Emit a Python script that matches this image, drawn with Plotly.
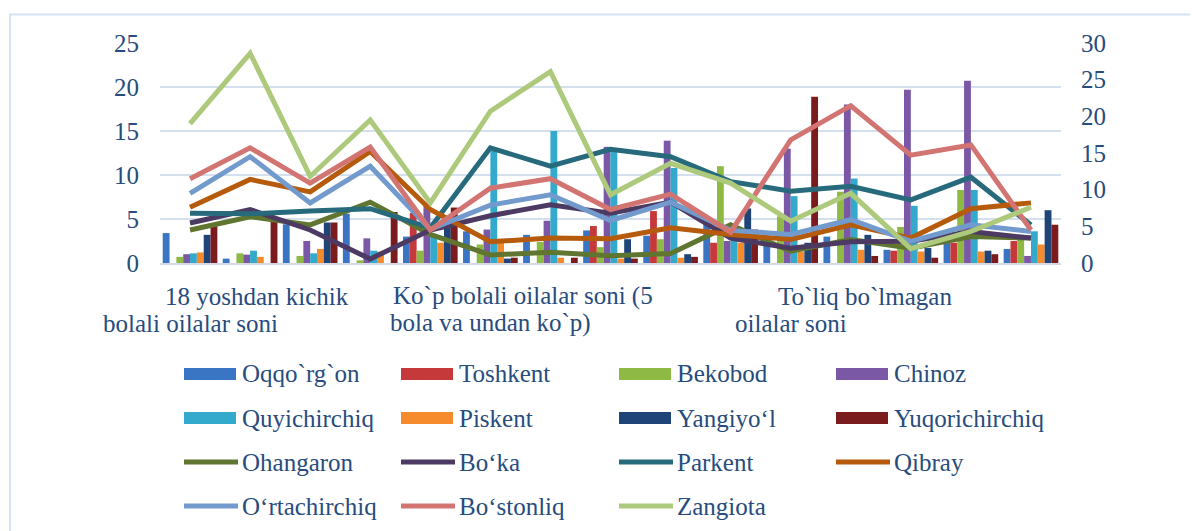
import plotly.graph_objects as go

# ---------------- data ----------------
categories = list(range(15))

bar_names = ["Oqqo`rg`on", "Toshkent", "Bekobod", "Chinoz",
             "Quyichirchiq", "Piskent", "Yangiyo‘l", "Yuqorichirchiq"]
oqqorgon = [3.4, 0.5, 4.4, 5.6, 3.0, 3.6, 3.2, 3.7, 3.1, 4.5, 2.3, 3.0, 1.5, 2.6, 1.6]
toshkent = [0, 0, 0, 0, 5.7, 0, 0, 4.2, 5.9, 2.3, 0, 0, 1.4, 2.3, 2.5]
bekobod = [0.7, 1.1, 0.8, 0.3, 1.4, 2.1, 2.4, 1.8, 2.7, 11.0, 5.3, 8.1, 4.1, 8.3, 3.2]
chinoz = [1.0, 0.95, 2.5, 2.8, 6.5, 3.8, 4.8, 13.2, 13.9, 2.5, 13.0, 18.0, 19.7, 20.7, 0.8]
quyichirchiq = [1.1, 1.4, 1.1, 1.4, 3.0, 12.8, 15.0, 12.8, 10.8, 2.6, 7.6, 9.6, 6.5, 8.3, 3.6]
piskent = [1.2, 0.7, 1.6, 1.3, 2.3, 2.3, 0.6, 0.5, 0.6, 2.3, 1.3, 1.5, 1.3, 1.3, 2.1]
yangiyol = [3.2, 0, 4.6, 0, 4.2, 0.5, 0, 2.7, 1.0, 6.2, 2.3, 3.2, 1.7, 1.4, 6.0]
yuqorichirchiq = [4.3, 5.0, 4.6, 5.8, 6.3, 0.6, 0.6, 0.5, 0.7, 3.8, 18.9, 0.8, 0.6, 1.0, 4.35]
bar_values = [oqqorgon, toshkent, bekobod, chinoz, quyichirchiq, piskent, yangiyol, yuqorichirchiq]

line_names = ["Ohangaron", "Bo‘ka", "Parkent", "Qibray",
              "O‘rtachirchiq", "Bo‘stonliq", "Zangiota"]
ohangaron = [4.5, 6.3, 5.2, 8.3, 3.9, 1.1, 1.45, 1.0, 1.3, 5.2, 1.6, 3.2, 2.0, 3.6, 3.4]
boka = [5.45, 7.3, 4.5, 0.55, 4.5, 6.45, 7.95, 6.8, 8.3, 3.4, 2.0, 2.9, 2.95, 4.3, 3.4]
parkent = [6.8, 6.7, 7.1, 7.4, 4.8, 15.7, 13.2, 15.5, 14.5, 11.1, 9.8, 10.45, 8.6, 11.7, 5.2]
qibray = [7.6, 11.4, 9.7, 15.2, 7.3, 2.9, 3.4, 3.3, 4.8, 3.9, 3.2, 5.2, 3.4, 7.4, 8.2]
ortachirchiq = [9.5, 14.5, 8.2, 13.2, 4.6, 7.9, 9.3, 5.8, 8.3, 4.45, 3.9, 5.9, 2.95, 5.2, 4.3]
bostonliq = [11.5, 15.7, 10.9, 15.8, 4.5, 10.2, 11.5, 7.3, 9.4, 4.2, 16.8, 21.45, 14.7, 16.1, 4.5]
zangiota = [19.0, 28.6, 11.8, 19.5, 8.2, 20.7, 26.1, 9.3, 13.6, 10.9, 5.7, 9.5, 1.95, 4.3, 7.6]
line_values = [ohangaron, boka, parkent, qibray, ortachirchiq, bostonliq, zangiota]

label_positions = [0, 5, 10]
label_line1 = ["18 yoshdan kichik", "Ko`p bolali oilalar soni (5", "To`liq bo`lmagan"]
label_line2 = ["bolali oilalar soni", "bola va undan ko`p)", "oilalar soni"]

left_ticks = [0, 5, 10, 15, 20, 25]
right_ticks = [0, 5, 10, 15, 20, 25, 30]

# ---------------- style ----------------
bar_colors = ["#3A75C4", "#C6393A", "#8EB944", "#7B58A6",
              "#33AACC", "#F58B2C", "#1E4478", "#7A1C1E"]
line_colors = ["#5F7530", "#4C3A63", "#276A7C", "#B65A0C",
               "#729ACC", "#D27572", "#ADC97B"]
FONT = "Liberation Serif, Times New Roman, serif"
TXT = "#274C7D"

OFF = 8  # default page body margin
W, H = 1198 - OFF, 531 - OFF
PLOT_L, PLOT_R, PLOT_T, PLOT_B = 160, 1061, 43, 263  # page pixel coords
ML, MT = PLOT_L - OFF, PLOT_T - OFF
MR = W - (PLOT_R - OFF)
MB = H - (PLOT_B - OFF)
PW, PH = PLOT_R - PLOT_L, PLOT_B - PLOT_T


def xp(px):
    return (px - PLOT_L) / PW


def yp(py):
    return (PLOT_B - py) / PH


fig = go.Figure()

for name, vals, col in zip(bar_names, bar_values, bar_colors):
    fig.add_trace(go.Bar(x=categories, y=vals, name=name, marker_color=col,
                         marker_line_width=0, yaxis="y", showlegend=False))

for name, vals, col in zip(line_names, line_values, line_colors):
    fig.add_trace(go.Scatter(x=categories, y=vals, name=name, mode="lines",
                             line=dict(color=col, width=5), yaxis="y2",
                             showlegend=False))

annotations = []
shapes = []

# category labels
shift1 = [67, 33, 74]
for pos, t1, t2, s in zip(label_positions, label_line1, label_line2, shift1):
    annotations.append(dict(x=pos, y=0, xref="x", yref="paper", text=t1,
                            showarrow=False, xanchor="center", yanchor="middle",
                            xshift=s, yshift=-(296 - PLOT_B),
                            font=dict(family=FONT, size=25, color=TXT)))
    annotations.append(dict(x=pos, y=0, xref="x", yref="paper", text=t2,
                            showarrow=False, xanchor="center", yanchor="middle",
                            yshift=-(323 - PLOT_B),
                            font=dict(family=FONT, size=25, color=TXT)))

# custom legend
legend_items = ([(n, c, "bar") for n, c in zip(bar_names, bar_colors)] +
                [(n, c, "line") for n, c in zip(line_names, line_colors)])
col_x = [184, 401, 619, 836]
row_y = [374, 418, 462, 506]
for i, (name, col, kind) in enumerate(legend_items):
    r, c = divmod(i, 4)
    x0 = col_x[c]
    y = row_y[r]
    if kind == "bar":
        shapes.append(dict(type="rect", xref="paper", yref="paper",
                           x0=xp(x0), x1=xp(x0 + 52), y0=yp(y + 6), y1=yp(y - 6),
                           fillcolor=col, line=dict(width=0)))
    else:
        shapes.append(dict(type="line", xref="paper", yref="paper",
                           x0=xp(x0), x1=xp(x0 + 54), y0=yp(y), y1=yp(y),
                           line=dict(color=col, width=5)))
    annotations.append(dict(x=xp(x0 + 56), y=yp(y), xref="paper", yref="paper",
                            text=name, showarrow=False, xanchor="left",
                            yanchor="middle",
                            font=dict(family=FONT, size=25, color=TXT)))

# chart border
shapes.append(dict(type="rect", xref="paper", yref="paper",
                   x0=xp(10), x1=xp(1215), y0=yp(548), y1=yp(14.5),
                   line=dict(color="#D6E2F1", width=2), layer="below"))

fig.update_layout(
    width=W, height=H,
    margin=dict(l=ML, r=MR, t=MT, b=MB, pad=0),
    paper_bgcolor="white", plot_bgcolor="white",
    barmode="group", bargap=0.09, bargroupgap=0,
    xaxis=dict(range=[-0.5, 14.5], showticklabels=False, showgrid=False,
               zeroline=False, showline=True, linecolor="#D3DAE5", linewidth=2,
               ticks=""),
    yaxis=dict(range=[0, 25], tickvals=left_ticks, showgrid=True,
               gridcolor="#D5E0EF", gridwidth=1.5, zeroline=False, ticks="",
               ticklabelstandoff=20,
               tickfont=dict(family=FONT, size=25, color=TXT)),
    yaxis2=dict(range=[0, 30], tickvals=right_ticks, overlaying="y",
                side="right", showgrid=False, zeroline=False, ticks="",
                ticklabelstandoff=19,
                tickfont=dict(family=FONT, size=25, color=TXT)),
    annotations=annotations,
    shapes=shapes,
    showlegend=False,
)

fig.write_html("out.html")
